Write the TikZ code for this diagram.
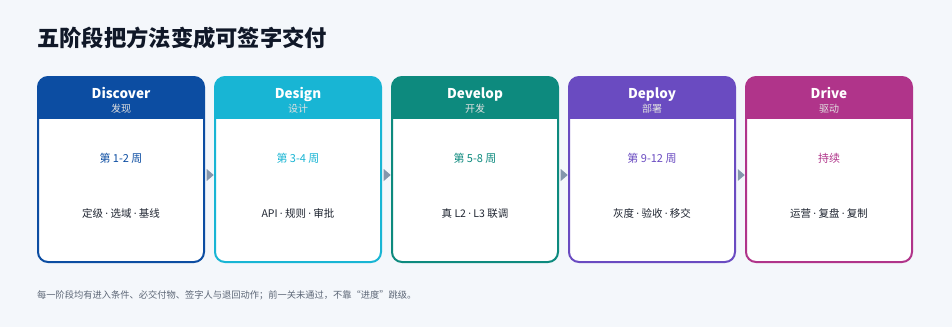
\documentclass[tikz,border=0pt]{standalone}
\usepackage{fontspec}
\setmainfont{Noto Sans CJK SC}
\newfontfamily\dotfont{Noto Sans}
\usepackage{tikz}
\usetikzlibrary{positioning, shapes.geometric}
\definecolor{pagebg}{RGB}{244,247,251}
\definecolor{titleink}{RGB}{16,24,40}
\definecolor{bodyink}{RGB}{30,36,48}
\definecolor{noteink}{RGB}{92,102,118}
\definecolor{arrowgray}{RGB}{132,150,172}
\definecolor{discblue}{RGB}{12,77,162}
\definecolor{desigcyan}{RGB}{24,181,212}
\definecolor{devteal}{RGB}{13,138,126}
\definecolor{deppurple}{RGB}{106,75,193}
\definecolor{drvmagenta}{RGB}{176,52,138}
\newcommand{\sepdot}{\hspace{0.22em}{\dotfont ·}\hspace{0.22em}}

\begin{document}
\begin{tikzpicture}[
    x=1pt, y=-1pt,
    node distance=9pt,
    card/.style={rectangle, rounded corners=10pt, draw=#1, line width=2pt, fill=white,
                 minimum width=166pt, minimum height=185pt,
                 path picture={\fill[#1, sharp corners] (path picture bounding box.north west)
                     rectangle ([yshift=-42pt]path picture bounding box.north east);}},
    stagename/.style={anchor=base, inner sep=0pt, text=white, font=\fontsize{13.5}{16}\selectfont\bfseries},
    stagesub/.style={anchor=base, inner sep=0pt, text=white!88!black, font=\fontsize{10}{12}\selectfont},
    weeks/.style={anchor=base, inner sep=0pt, text=#1, font=\fontsize{11}{13}\selectfont},
    items/.style={anchor=base, inner sep=0pt, text=bodyink, font=\fontsize{10.5}{12}\selectfont},
    tri/.style={isosceles triangle, isosceles triangle stretches, fill=arrowgray, inner sep=0pt,
                minimum width=12pt, minimum height=7pt}
]
    \fill[pagebg] (0,0) rectangle (952,327);
    \useasboundingbox (0,0) rectangle (952,327);

    \node[anchor=west, inner sep=0pt, text=titleink, font=\fontsize{22.3}{26}\selectfont\bfseries]
        (heading) at (37,38) {五阶段把方法变成可签字交付};

    % the five stages
    \node[card=discblue] (discover) at (121,169.5) {};
    \node[card=desigcyan, right=of discover] (design) {};
    \node[card=devteal, right=of design] (develop) {};
    \node[card=deppurple, right=of develop] (deploy) {};
    \node[card=drvmagenta, right=of deploy] (drive) {};

    \node[stagename] (discover-name) at ([yshift=-22pt]discover.north) {Discover};
    \node[stagesub]  (discover-sub)  at ([yshift=-36pt]discover.north) {发现};
    \node[weeks=discblue] (discover-weeks) at ([yshift=-86pt]discover.north) {第 1-2 周};
    \node[items] (discover-items) at ([yshift=-141pt]discover.north) {定级\sepdot 选域\sepdot 基线};

    \node[stagename] (design-name) at ([yshift=-22pt]design.north) {Design};
    \node[stagesub]  (design-sub)  at ([yshift=-36pt]design.north) {设计};
    \node[weeks=desigcyan] (design-weeks) at ([yshift=-86pt]design.north) {第 3-4 周};
    \node[items] (design-items) at ([yshift=-141pt]design.north) {API\sepdot 规则\sepdot 审批};

    \node[stagename] (develop-name) at ([yshift=-22pt]develop.north) {Develop};
    \node[stagesub]  (develop-sub)  at ([yshift=-36pt]develop.north) {开发};
    \node[weeks=devteal] (develop-weeks) at ([yshift=-86pt]develop.north) {第 5-8 周};
    \node[items] (develop-items) at ([yshift=-141pt]develop.north) {真 L2\sepdot L3 联调};

    \node[stagename] (deploy-name) at ([yshift=-22pt]deploy.north) {Deploy};
    \node[stagesub]  (deploy-sub)  at ([yshift=-36pt]deploy.north) {部署};
    \node[weeks=deppurple] (deploy-weeks) at ([yshift=-86pt]deploy.north) {第 9-12 周};
    \node[items] (deploy-items) at ([yshift=-141pt]deploy.north) {灰度\sepdot 验收\sepdot 移交};

    \node[stagename] (drive-name) at ([yshift=-22pt]drive.north) {Drive};
    \node[stagesub]  (drive-sub)  at ([yshift=-36pt]drive.north) {驱动};
    \node[weeks=drvmagenta] (drive-weeks) at ([yshift=-86pt]drive.north) {持续};
    \node[items] (drive-items) at ([yshift=-141pt]drive.north) {运营\sepdot 复盘\sepdot 复制};

    % small arrowheads between stages
    \path (discover.east) -- node[tri, yshift=-5.5pt] (tri1) {} (design.west);
    \path (design.east) -- node[tri, yshift=-5.5pt] (tri2) {} (develop.west);
    \path (develop.east) -- node[tri, yshift=-5.5pt] (tri3) {} (deploy.west);
    \path (deploy.east) -- node[tri, yshift=-5.5pt] (tri4) {} (drive.west);

    \node[anchor=west, inner sep=0pt, text=noteink, font=\fontsize{9.25}{11}\selectfont]
        (footnote) at (37,295) {每一阶段均有进入条件、必交付物、签字人与退回动作；前一关未通过，不靠“进度”跳级。};
\end{tikzpicture}
\end{document}
